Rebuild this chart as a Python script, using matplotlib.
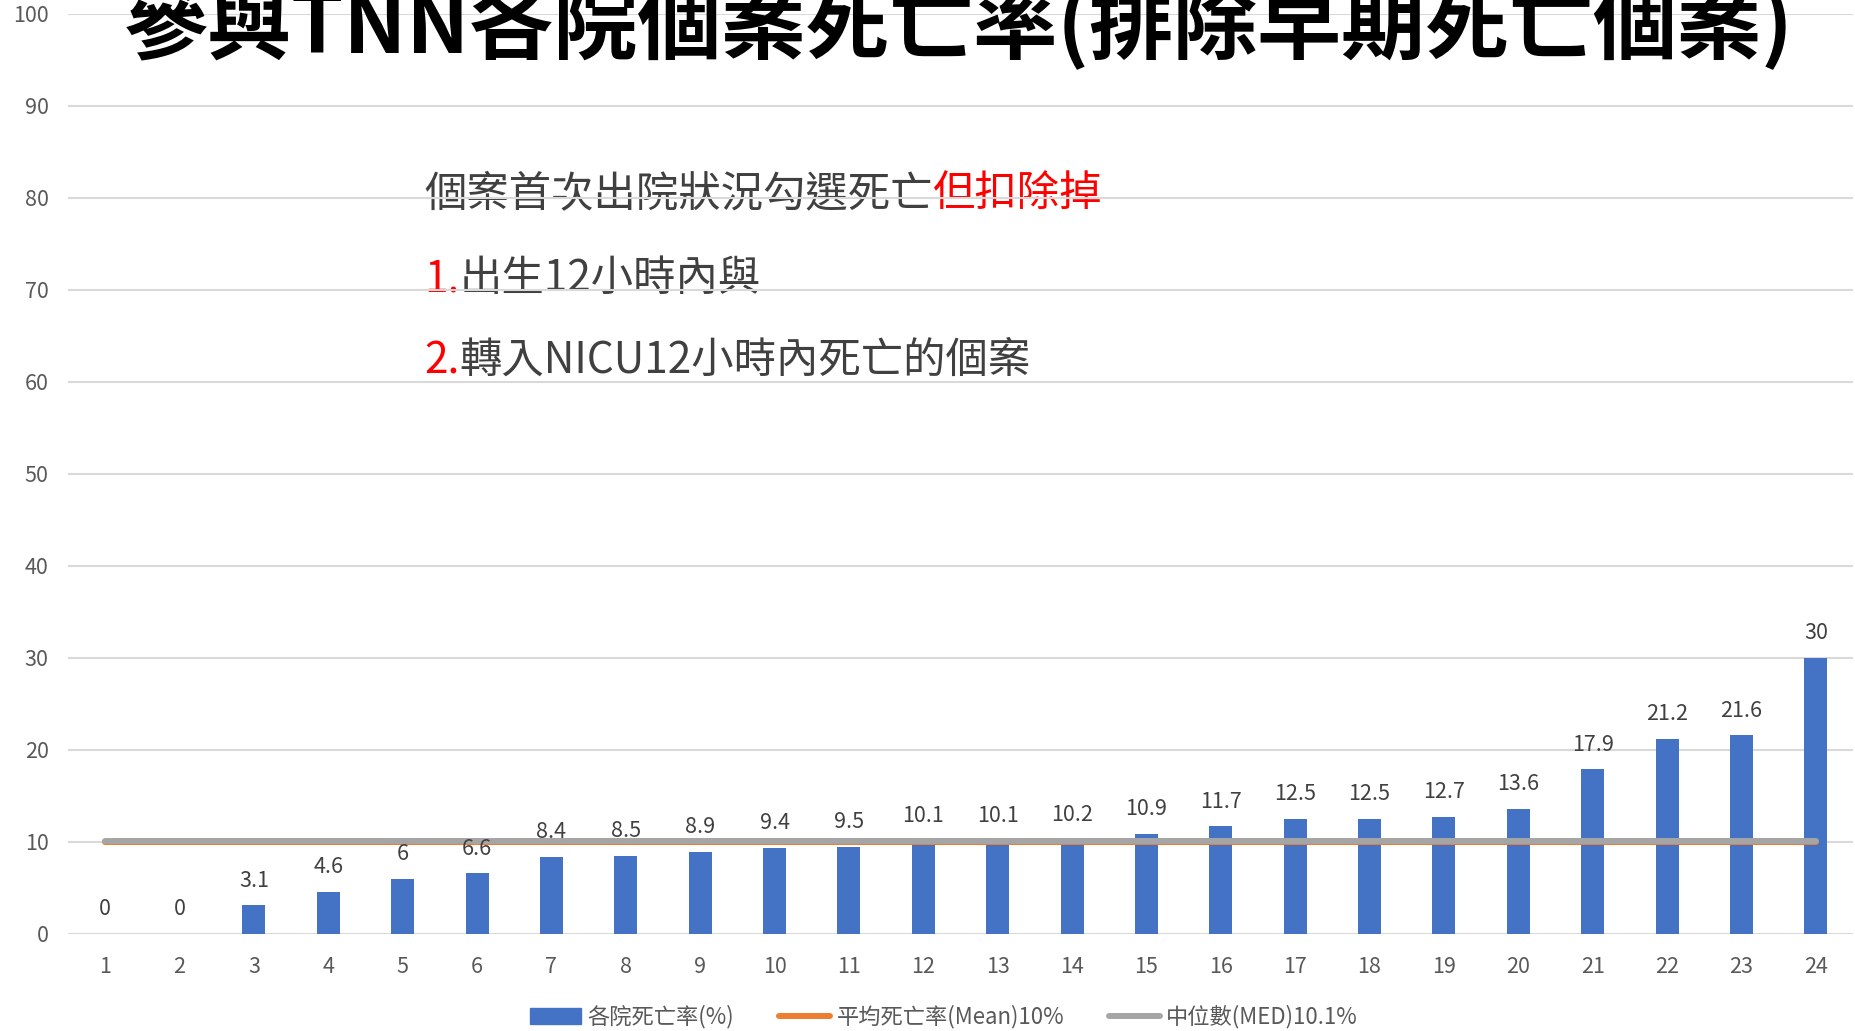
# TNN hospital mortality chart (excluding early deaths)

import numpy as np
import matplotlib.pyplot as plt
from matplotlib.patches import Patch
from matplotlib.lines import Line2D

plt.rcParams['font.family'] = ['Noto Sans CJK TC', 'DejaVu Sans']

# data
hospitals = [str(i) for i in range(1, 25)]
rates = [0, 0, 3.1, 4.6, 6, 6.6, 8.4, 8.5, 8.9, 9.4, 9.5, 10.1,
         10.1, 10.2, 10.9, 11.7, 12.5, 12.5, 12.7, 13.6, 17.9, 21.2, 21.6, 30]
mean_rate = 10
median_rate = 10.1

title = '參與TNN各院個案死亡率(排除早期死亡個案)'
legend_labels = ['各院死亡率(%)', '平均死亡率(Mean)10%', '中位數(MED)10.1%']
note_lines = [
    [('個案首次出院狀況勾選死亡', '#404040'), ('但扣除掉', '#FF0000')],
    [('1.', '#FF0000'), ('出生12小時內與', '#404040')],
    [('2.', '#FF0000'), ('轉入NICU12小時內死亡的個案', '#404040')],
]

# colors
blue = '#4472C4'
orange = '#ED7D31'
gray = '#A5A5A5'
grid = '#D9D9D9'
label_col = '#595959'

W, H = 1856, 1031
fig = plt.figure(figsize=(W / 100, H / 100), dpi=100)
ax = fig.add_axes([68 / W, (H - 934) / H, (1853 - 68) / W, (934 - 14) / H])

x = np.arange(1, len(hospitals) + 1)
bars = ax.bar(x, rates, width=0.31, color=blue, zorder=2)
ax.plot(x, [mean_rate] * len(x), color=orange, lw=4.3, solid_capstyle='round', zorder=3)
ax.plot(x, [median_rate] * len(x), color=gray, lw=4.3, solid_capstyle='round', zorder=4)

# data labels
for xi, v in zip(x, rates):
    ax.annotate(f'{v:g}', (xi, v), xytext=(0, 13.5), textcoords='offset points',
                ha='center', va='baseline', fontsize=15.5, color='#404040', zorder=5)

ax.set_xlim(0.5, len(x) + 0.5)
ax.set_ylim(0, 100)
ax.set_yticks(range(0, 101, 10))
ax.set_xticks(x)
ax.set_xticklabels(hospitals)
ax.tick_params(axis='both', length=0, labelsize=15.5, labelcolor=label_col)
ax.tick_params(axis='y', pad=14)
ax.tick_params(axis='x', pad=16)
ax.set_axisbelow(True)
ax.grid(axis='y', color=grid, lw=1.5)
for s in ax.spines.values():
    s.set_visible(False)

# title, partly cut at the top
fig.text(959 / W, 1 - 53 / H, title, ha='center', va='baseline',
         fontsize=60.5, fontweight='bold', color='black', zorder=10)

# note text with mixed colors
fig.canvas.draw()
renderer = fig.canvas.get_renderer()
inv = fig.transFigure.inverted()
note_y = [1 - 206 / H, 1 - 291 / H, 1 - 373 / H]
for y, parts in zip(note_y, note_lines):
    xx = 424 / W
    for s, c in parts:
        t = ax.text(xx, y, s, color=c, fontsize=30.5, fontweight='light',
                    ha='left', va='baseline',
                    transform=fig.transFigure, zorder=0.2, clip_on=False)
        bb = t.get_window_extent(renderer)
        xx = inv.transform((bb.x1, bb.y0))[0]

# legend
handles = [Patch(color=blue),
           Line2D([], [], color=orange, lw=4.3, solid_capstyle='round'),
           Line2D([], [], color=gray, lw=4.3, solid_capstyle='round')]
fig.legend(handles, legend_labels, loc='center', bbox_to_anchor=(944 / W, 14 / H),
           ncol=3, frameon=False, fontsize=16, labelcolor=label_col,
           handlelength=2.3, handletextpad=0.3, columnspacing=2.0)

plt.savefig('out.png', dpi=100)
